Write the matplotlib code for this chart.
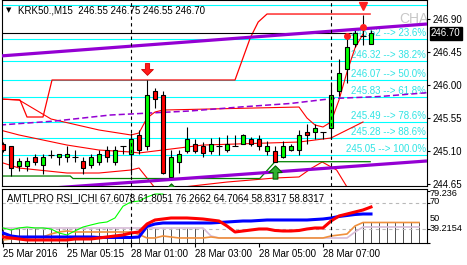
import numpy as np
import matplotlib
matplotlib.use('Agg')
import matplotlib.pyplot as plt
from matplotlib.path import Path

plt.rcParams['font.family'] = ['Liberation Sans', 'DejaVu Sans']
plt.rcParams['font.size'] = 7

# KRK50 M15 candles, bar 0 = first visible bar (25 Mar 2016)
opens = np.array([245.20, 245.16, 244.90, 244.90, 245.01, 244.91, 245.04, 245.01, 245.01, 245.02,
                  244.96, 244.91, 244.95, 245.11, 244.95, 245.16, 245.06, 245.32, 245.16, 245.91,
                  245.86, 244.75, 244.95, 245.10, 245.20, 245.17, 245.10, 245.16, 245.11, 245.17,
                  245.20, 245.26, 245.26, 245.10, 245.10, 245.01, 245.11, 245.11, 245.35, 245.35,
                  245.35, 245.41, 245.91, 246.21, 246.56, 246.67, 246.55])
highs = np.array([245.22, 245.17, 245.00, 245.01, 245.06, 245.06, 245.11, 245.06, 245.16, 245.11,
                  245.01, 245.06, 245.11, 245.16, 245.16, 245.17, 245.34, 245.38, 246.07, 245.95,
                  245.91, 245.11, 245.11, 245.42, 245.26, 245.22, 245.27, 245.29, 245.32, 245.32,
                  245.33, 245.29, 245.32, 245.23, 245.17, 245.23, 245.20, 245.38, 245.47, 245.46,
                  245.35, 246.04, 246.35, 246.66, 246.76, 246.95, 246.75])
lows = np.array([245.09, 244.76, 244.82, 244.82, 244.91, 244.79, 245.00, 244.91, 244.95, 244.95,
                 244.79, 244.86, 244.91, 244.95, 244.91, 245.06, 244.77, 245.06, 245.11, 245.68,
                 244.79, 244.71, 244.80, 245.07, 245.07, 245.01, 245.06, 245.04, 245.09, 245.17,
                 245.19, 245.16, 245.11, 245.04, 244.95, 245.00, 245.10, 245.04, 245.20, 245.26,
                 245.26, 245.26, 245.85, 246.02, 246.52, 246.54, 246.55])
closes = np.array([245.11, 244.86, 244.96, 244.96, 244.95, 245.01, 245.04, 245.06, 245.06, 245.02,
                   244.86, 245.01, 245.06, 245.01, 245.11, 245.16, 245.26, 245.11, 245.86, 245.80,
                   244.80, 245.02, 245.06, 245.26, 245.10, 245.07, 245.20, 245.16, 245.20, 245.17,
                   245.31, 245.20, 245.16, 245.17, 244.95, 245.17, 245.17, 245.31, 245.31, 245.41,
                   245.35, 245.86, 246.16, 246.51, 246.70, 246.67, 246.70])

time_ticks = [0, 8, 16, 24, 32, 40]
time_labels = ['25 Mar 2016', '25 Mar 05:15', '28 Mar 01:00', '28 Mar 03:00',
               '28 Mar 05:00', '28 Mar 07:00']
price_ticks = [246.90, 246.45, 246.00, 245.55, 245.10, 244.65]
bid = 246.70
bid_end = 43.6
separators = [16, 41]

# fibo retracement
fib_prices = [247.09, 246.62, 246.32, 246.07, 245.83, 245.49, 245.28, 245.05]
fib_pcts = [0.0, 23.6, 38.2, 50.0, 61.8, 78.6, 88.6, 100.0]

# channel trend lines (anchor bar, price)
ch_up_bars = [-0.375, 53]
ch_up_price = [246.392, 246.828]
ch_lo_bars = [-0.375, 53]
ch_lo_price = [244.542, 244.962]
ma_bars = [-0.375, 6.5, 13.4, 23.4, 29.6, 35.9, 41.25, 47.1, 53]
ma_price = [245.452, 245.506, 245.588, 245.643, 245.697, 245.745, 245.813, 245.840, 245.892]

# bands
bb_up_bars = [-0.375, 2, 6, 12, 16, 17, 18, 19, 20, 37, 38, 39, 40, 41, 42, 43, 44, 45]
bb_up = [245.806, 245.793, 245.534, 245.384, 245.316, 245.343, 245.547, 245.629, 245.656,
         245.697, 245.547, 245.452, 245.425, 245.493, 245.793, 246.174, 246.501, 246.692]
bb_mid_bars = [-0.375, 2, 8, 12, 16, 17, 21, 25, 37, 41, 43, 45]
bb_mid = [245.384, 245.316, 245.179, 245.111, 245.084, 245.071, 245.125, 245.179, 245.220,
          245.275, 245.384, 245.493]
bb_lo_bars = [-0.375, 2, 8, 12, 16, 17, 18, 19, 20, 22.5, 28, 34, 37, 38.6, 39.9, 41.7, 43]
bb_lo = [244.948, 244.866, 244.798, 244.798, 244.839, 244.866, 244.730, 244.594, 244.498,
         244.607, 244.675, 244.730, 244.744, 244.866, 244.948, 244.839, 244.607]
hh_bars = [-0.375, 2.125, 3, 5, 6.125, 29, 30.9, 31.9, 33, 45.9]
hh = [245.806, 245.793, 245.561, 245.561, 246.065, 246.065, 246.637, 246.855, 246.964, 246.964]
ll_bars = [-0.375, 8.4, 8.75, 32.1, 34, 45.9]
ll = [244.757, 244.757, 244.723, 244.723, 244.952, 244.952]

sell_bars = [18]
buy_bars = [21, 34]
top_mark_bar, top_mark_price = 45, 247.073
dot_bars = [43, 45]
dot_price = [246.665, 246.791]

# AMTLPRO RSI_ICHI sub window
rsi_red = [43.85, 43.08, 42.31, 41.54, 41.54, 41.54, 41.54, 41.54, 41.54, 42.31,
           42.31, 42.31, 43.08, 43.85, 44.62, 45.38, 46.92, 47.69, 53.85, 56.92,
           57.69, 58.46, 58.46, 58.46, 58.1, 57.69, 56.92, 56.15, 52.31, 47.69,
           48.46, 49.23, 50.0, 50.0, 48.85, 48.46, 48.46, 48.85, 50.0, 50.77,
           50.77, 56.15, 60.0, 61.54, 63.08, 64.62, 66.92]
rsi_blue = [46.92, 44.62, 43.85, 43.85, 43.85, 43.85, 43.85, 43.85, 43.85, 43.85,
            43.85, 43.85, 43.46, 43.46, 43.46, 43.46, 43.46, 43.85, 52.0, 53.85,
            54.62, 54.62, 54.62, 54.62, 54.62, 54.62, 54.62, 55.0, 55.38, 55.77,
            56.15, 56.15, 56.54, 56.92, 56.92, 56.92, 56.92, 56.92, 56.92, 57.31,
            57.69, 58.46, 59.62, 60.38, 61.15, 61.54, 61.54]
chikou = [50.8, 49.2, 50.8, 51.5, 50.8, 50.8, 50.0, 46.9, 45.4, 48.5,
          51.5, 53.1, 54.6, 55.4, 58.5, 67.5, 70.8, 71.5, 74.6, 76.9, 76.9]
span_a = [41.54, 42.31, 43.08, 43.08, 43.85, 43.85, 46.15, 47.69, 48.46, 47.69,
          47.69, 47.69, 47.69, 47.69, 47.69, 47.69, 47.69, 45.77, 43.08, 43.08,
          44.62, 43.85, 43.08, 43.08, 43.08, 43.08, 43.85, 43.08, 43.08, 43.08,
          43.08, 43.08, 43.08, 43.08, 43.08, 43.08, 43.08, 43.08, 43.08, 43.08,
          43.08, 44.62, 45.38, 46.15, 52.31, 55.0, 55.0, 55.0, 55.0, 55.0,
          55.0, 55.0, 55.0]
span_b = [50.77] * 26 + [44.62] + [43.08] * 17 + [47.69, 51.54] + [51.54] * 7
hatch_bars = list(range(0, 26)) + list(range(44, 53))
sub_levels = [70, 50]
sub_title = 'AMTLPRO RSI_ICHI 67.6078 61.8051 76.2662 64.7064 58.8317 58.8317'
sub_marks = [(79.236, '79.236', -3), (70, '70', 1.5), (50, '50', 10), (39.2154, '39.2154', 14.5)]

W, H = 467, 265
fig = plt.figure(figsize=(W / 100, H / 100), dpi=100)
ax = fig.add_axes([2 / W, 1 - 186 / H, 425 / W, 186 / H])
ax2 = fig.add_axes([2 / W, 1 - 243 / H, 425 / W, 54 / H])

for a in (ax, ax2):
    a.set_xlim(-0.125, 53)
    for s in a.spines.values():
        s.set_linewidth(0.8)
        s.set_color('black')
    a.yaxis.tick_right()
ax.set_ylim(244.621, 247.155)
ax2.set_ylim(39.2154, 80.77)

# fibo lines + labels
for p, pct in zip(fib_prices, fib_pcts):
    ax.axhline(p, color='#00ffff', lw=0.8, zorder=1)
    if pct > 0:
        ax.annotate(f'{p:.2f} --> {pct:.1f}%', xy=(1, p), xycoords=ax.get_yaxis_transform(),
                    xytext=(-1, 3), textcoords='offset pixels', ha='right', va='baseline',
                    color='#30e4e4', fontsize=7, zorder=2)

ax.annotate('CHA', xy=(1, 1), xycoords='axes fraction', xytext=(1, -19),
            textcoords='offset pixels', fontsize=10, color='#c8c8c8', va='center', ha='right',
            zorder=1)

# indicator lines
ax.plot(bb_up_bars, bb_up, color='#ff0000', lw=0.8, zorder=2)
ax.plot(bb_mid_bars, bb_mid, color='#ff0000', lw=0.8, zorder=2)
ax.plot(bb_lo_bars, bb_lo, color='#ff0000', lw=0.8, zorder=2)
ax.plot(hh_bars, hh, color='#ff0000', lw=0.9, zorder=2)
ax.plot(ll_bars, ll, color='#008000', lw=0.9, zorder=2)
ax.plot(ma_bars, ma_price, color='#9400d3', lw=1.1, ls=(0, (4, 2)), zorder=2)
ax.hlines(bid, -0.125, bid_end, color='black', lw=0.8, zorder=3)

# candles
bars = np.arange(len(closes))
body_lo = np.minimum(opens, closes)
body_h = np.abs(closes - opens)
colors = np.where(closes > opens, '#00ff00', '#ff0000')
ax.vlines(bars, lows, highs, color='black', lw=0.8, zorder=4)
solid = body_h > 0.001
ax.bar(bars[solid], body_h[solid], bottom=body_lo[solid], width=0.56, color=colors[solid],
       edgecolor='black', lw=0.8, zorder=5)
ax.hlines(closes[~solid], bars[~solid] - 0.32, bars[~solid] + 0.32, color='black', lw=0.8, zorder=5)

ax.plot(ch_up_bars, ch_up_price, color='#9400d3', lw=2.3, zorder=6, solid_capstyle='butt')
ax.plot(ch_lo_bars, ch_lo_price, color='#9400d3', lw=2.3, zorder=6, solid_capstyle='butt')

# signal arrows
arrow = Path([(-0.18, 0.5), (0.18, 0.5), (0.18, 0.0), (0.5, 0.0), (0.0, -0.5),
              (-0.5, 0.0), (-0.18, 0.0), (-0.18, 0.5)], closed=True)
arrow_up = Path(arrow.vertices * [1, -1], arrow.codes)
sb = np.array(sell_bars)
ax.plot(sb, highs[sb] + 0.145, ls='none', marker=arrow, ms=8.5, mfc='#ff1a1a', mec='#d00000',
        mew=0.6, zorder=7)
bb = np.array(buy_bars)
ax.plot(bb, lows[bb] - 0.14, ls='none', marker=arrow_up, ms=9.5, mfc='#30b030', mec='#006000',
        mew=0.8, zorder=7)
ax.plot([top_mark_bar], [top_mark_price], ls='none', marker='v', ms=6, color='#ff2020', zorder=7)
ax.plot(dot_bars, dot_price, ls='none', marker='o', ms=4, color='#ff2020', zorder=7)

for b in separators:
    ax.axvline(b, color='black', lw=0.8, ls=(0, (3, 3)), zorder=8)
    ax2.axvline(b, color='black', lw=0.8, ls=(0, (3, 3)), zorder=8)

ax.set_xticks([])
ax.set_yticks(price_ticks)
ax.set_yticklabels([f'{p:.2f}' for p in price_ticks])
ax.tick_params(axis='y', direction='out', length=2.2, width=0.8, pad=1.5, labelsize=7)
ax.annotate(f'{bid:.2f}', xy=(1, bid), xycoords=ax.get_yaxis_transform(), xytext=(4, 0),
            textcoords='offset pixels', ha='left', va='center', color='white', fontsize=7,
            bbox=dict(boxstyle='square,pad=0.15', fc='black', ec='black'), annotation_clip=False)

ax.annotate('KRK50.,M15  246.55 246.75 246.55 246.70', xy=(0, 1), xycoords='axes fraction',
            xytext=(16, -10.5), textcoords='offset pixels', ha='left', va='center', fontsize=7)
ax.annotate('\u25bc', xy=(0, 1), xycoords='axes fraction', xytext=(4, -10.5),
            textcoords='offset pixels', ha='left', va='center', fontsize=5, family='DejaVu Sans')

# sub window
ext = np.arange(len(span_a))
top = np.maximum(span_a, span_b)
hb = np.array(hatch_bars)
ax2.vlines(hb, 39.2154, top[hb], color='#505050', lw=0.7, zorder=1)
for lv in sub_levels:
    ax2.axhline(lv, color='#b8b8b8', lw=0.8, ls=(0, (3, 3)), zorder=1)
ax2.plot(ext, span_b, color='#d8bcd8', lw=1.2, zorder=2)
ax2.plot(ext, span_a, color='#f0903c', lw=1.2, zorder=2)
ax2.plot(np.arange(len(chikou)), chikou, color='#00ff00', lw=0.8, zorder=3)
ax2.plot(bars, rsi_blue, color='#0000ff', lw=2.2, zorder=4)
ax2.plot(bars, rsi_red, color='#ff0000', lw=2.2, zorder=5)
ax2.annotate(sub_title, xy=(0, 1), xycoords='axes fraction', xytext=(5, -9.5),
             textcoords='offset pixels', ha='left', va='center', fontsize=7, zorder=9)

ax2.set_yticks([m[0] for m in sub_marks])
ax2.set_yticklabels([])
ax2.tick_params(axis='y', direction='out', length=2.2, width=0.8)
for val, txt, dy in sub_marks:
    ax2.annotate(txt, xy=(1, val), xycoords=ax2.get_yaxis_transform(), xytext=(3, dy),
                 textcoords='offset pixels', ha='left', va='center', fontsize=6.6,
                 annotation_clip=False)

ax2.set_xticks(time_ticks)
ax2.set_xticklabels(time_labels, ha='left')
ax2.tick_params(axis='x', direction='out', length=3, width=0.8, pad=1.5, labelsize=7)

fig.savefig('out.png', dpi=100)
